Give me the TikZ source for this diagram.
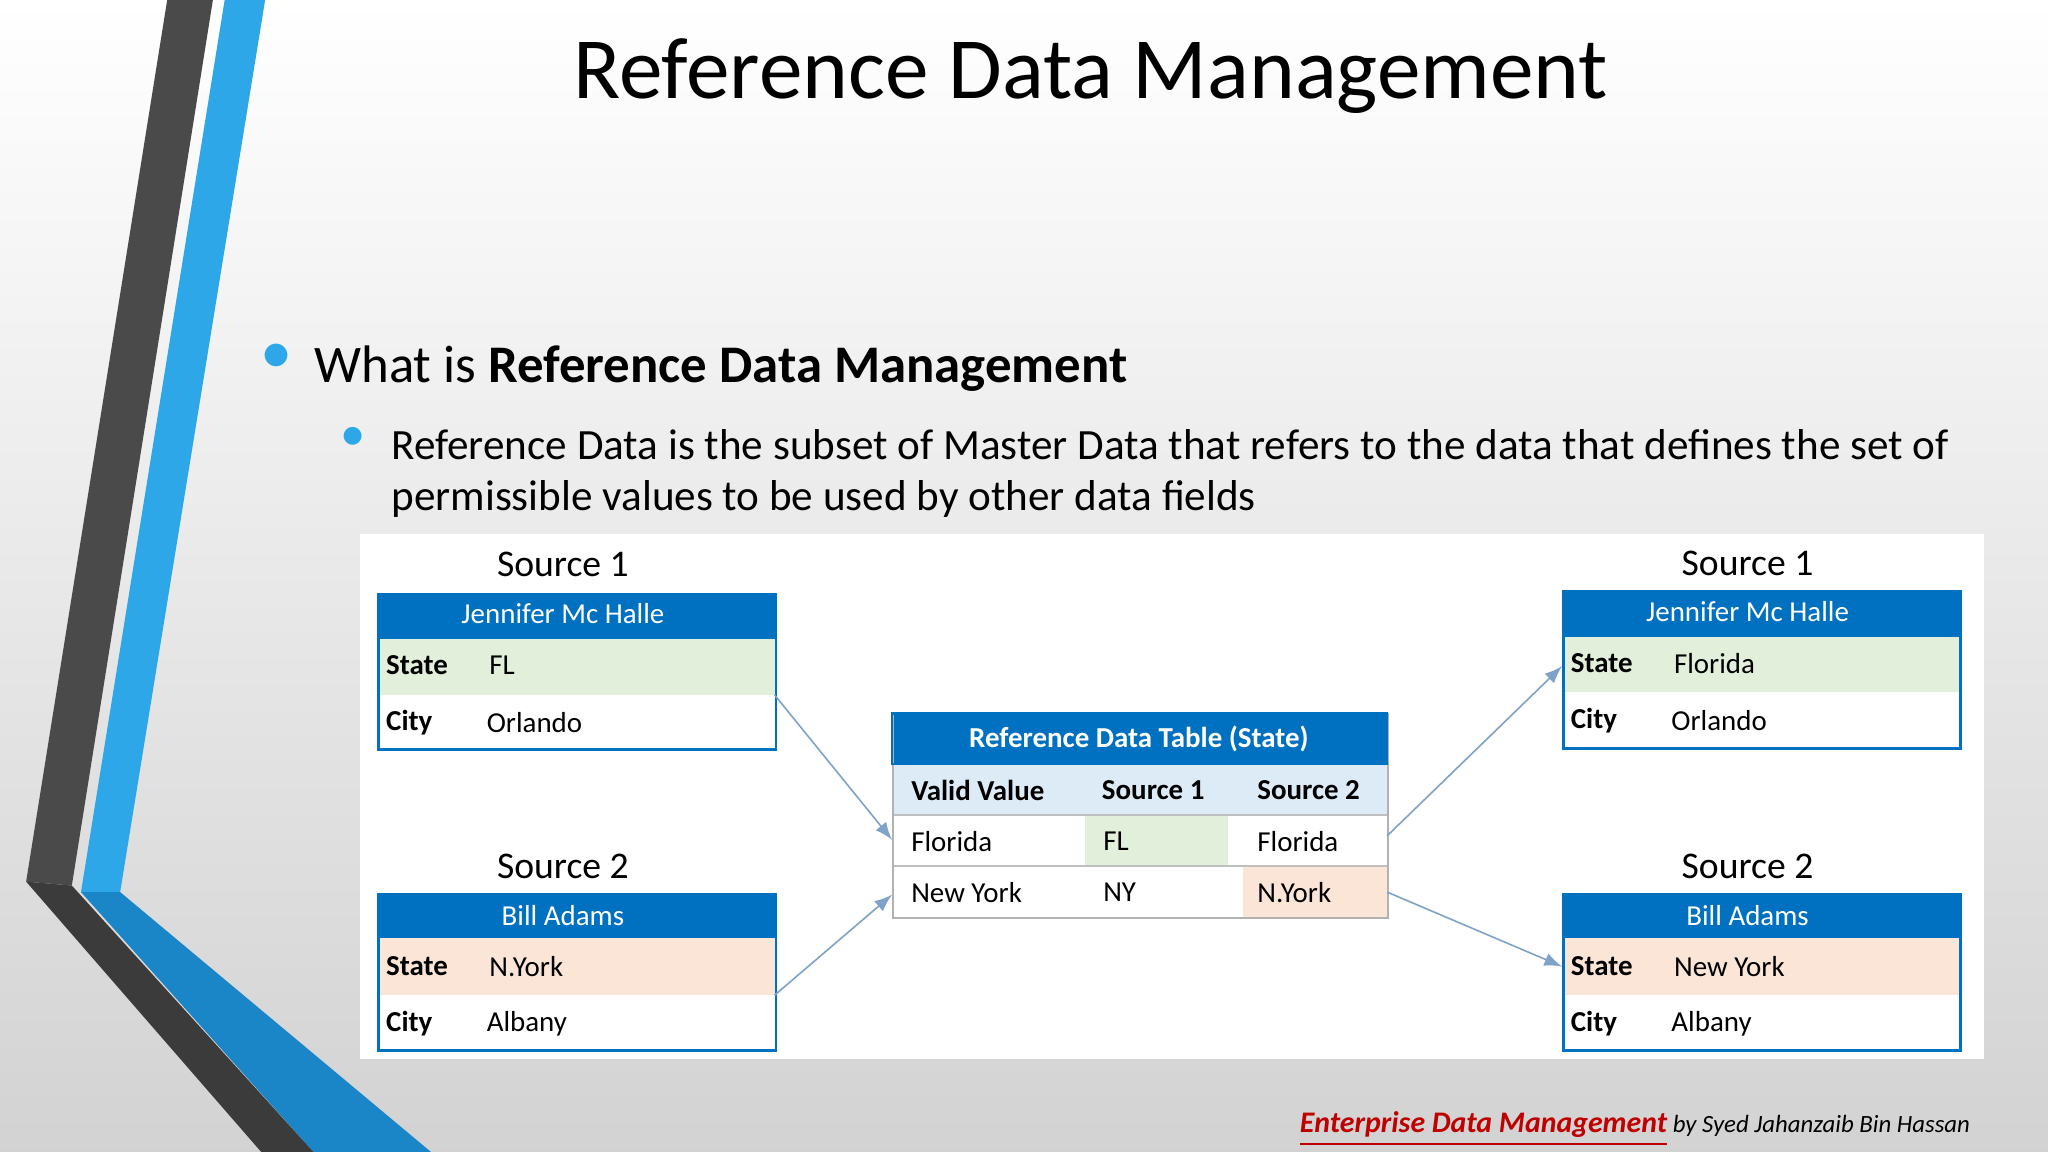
\documentclass[tikz,border=0pt]{standalone}
\usepackage{fontspec}
\setmainfont{Carlito}
\begin{document}
\begin{tikzpicture}[x=0.01cm,y=-0.01cm,
  cell/.style={inner sep=0pt,anchor=west,font=\fontsize{6.3}{7}\selectfont},
  bcell/.style={cell,font=\fontsize{6.3}{7}\selectfont\bfseries},
  htxt/.style={text=white,inner sep=0pt,font=\fontsize{6.3}{7}\selectfont},
  src/.style={inner sep=0pt,font=\fontsize{8.2}{9}\selectfont},
  arr/.style={draw=arrblue,line width=0.35pt,-latex},
  frame/.style={draw=hblue,line width=0.6pt,inner sep=0pt},
  body/.style={anchor=base west,inner sep=0pt,font=\fontsize{9.4}{11}\selectfont}]
\definecolor{hblue}{HTML}{0070C0}
\definecolor{lgreen}{HTML}{E2EFDA}
\definecolor{peach}{HTML}{FBE5D6}
\definecolor{lblue}{HTML}{DDEBF7}
\definecolor{arrblue}{HTML}{7FA3C8}
\definecolor{dgray}{HTML}{4A4A4A}
\definecolor{sblue}{HTML}{2EA7E8}
\definecolor{bblue}{HTML}{1A86C8}
\useasboundingbox (0,0) rectangle (1568,882);
\shade[top color=white,bottom color=gray!35] (0,0) rectangle (1568,882);
% decorative stripes
\fill[dgray] (128,0) -- (163,0) -- (55,678) -- (20,675) -- cycle;
\fill[sblue] (172,0) -- (203,0) -- (92,683) -- (62,683) -- cycle;
\fill[bblue] (62,683) -- (92,683) -- (330,882) -- (240,882) -- cycle;
\fill[dgray!80!black] (20,675) -- (55,678) -- (240,882) -- (200,882) -- cycle;
% title
\node[font=\fontsize{19}{22}\selectfont] (title) at (835,58) {Reference Data Management};
\node[text=sblue,font=\fontsize{14}{14}\selectfont] (b1) at (212,275) {•};
\node[anchor=base west,inner sep=0pt,font=\fontsize{11.5}{13}\selectfont] (t1) at (240,293) {What is \textbf{Reference Data Management}};
\node[text=sblue,font=\fontsize{11}{11}\selectfont] (b2) at (270,336) {•};
\node[body] (t2) at (299,352) {Reference Data is the subset of Master Data that refers to the data that defines the set of};
\node[body] (t3) at (299,391) {permissible values to be used by other data fields};
% panel
\fill[white] (276,409) rectangle (1519,811);
% left source 1
\node[src] (ls1) at (431,432) {Source 1};
\fill[hblue] (289,454) rectangle (593,489);
\fill[lgreen] (289,489) rectangle (593,532);
\node[frame,minimum width=304*0.01cm,minimum height=119*0.01cm,anchor=north west] (L1) at (289,454) {};
\node[htxt] at (431,470) {Jennifer Mc Halle};
\node[bcell] at (295,509) {State}; \node[cell] at (374,509) {FL};
\node[bcell] at (295,553) {City}; \node[cell] at (372,553) {Orlando};
% left source 2
\node[src] (ls2) at (431,663) {Source 2};
\fill[hblue] (289,684) rectangle (593,718);
\fill[peach] (289,718) rectangle (593,762);
\node[frame,minimum width=304*0.01cm,minimum height=119*0.01cm,anchor=north west] (L2) at (289,684) {};
\node[htxt] at (431,701) {Bill Adams};
\node[bcell] at (295,740) {State}; \node[cell] at (374,740) {N.York};
\node[bcell] at (295,784) {City}; \node[cell] at (372,784) {Albany};
% right source 1
\node[src] (rs1) at (1338,431) {Source 1};
\fill[hblue] (1196,452) rectangle (1500,488);
\fill[lgreen] (1196,488) rectangle (1500,530);
\node[frame,minimum width=304*0.01cm,minimum height=120*0.01cm,anchor=north west] (R1) at (1196,452) {};
\node[htxt] at (1338,468) {Jennifer Mc Halle};
\node[bcell] at (1202,508) {State}; \node[cell] at (1281,508) {Florida};
\node[bcell] at (1202,552) {City}; \node[cell] at (1279,552) {Orlando};
% right source 2
\node[src] (rs2) at (1338,663) {Source 2};
\fill[hblue] (1196,684) rectangle (1500,718);
\fill[peach] (1196,718) rectangle (1500,762);
\node[frame,minimum width=304*0.01cm,minimum height=119*0.01cm,anchor=north west] (R2) at (1196,684) {};
\node[htxt] at (1338,701) {Bill Adams};
\node[bcell] at (1202,740) {State}; \node[cell] at (1281,740) {New York};
\node[bcell] at (1202,784) {City}; \node[cell] at (1279,784) {Albany};
% center table
\fill[hblue] (683,546) rectangle (1062,585);
\fill[lblue] (683,585) rectangle (1062,624);
\fill[lgreen] (831,624) rectangle (940,663);
\fill[peach] (952,663) rectangle (1062,702);
\draw[gray!50] (683,624) -- (1062,624) (683,663) -- (1062,663);
\node[draw=gray!60,line width=0.5pt,inner sep=0pt,minimum width=379*0.01cm,minimum height=156*0.01cm,anchor=north west] (C) at (683,546) {};
\draw[hblue,line width=0.6pt] (683,546) rectangle (1062,585);
\node[htxt,font=\fontsize{6.3}{7}\selectfont\bfseries] at (872,566) {Reference Data Table (State)};
\node[bcell] at (697,605) {Valid Value}; \node[bcell] at (843,605) {Source 1}; \node[bcell] at (962,605) {Source 2};
\node[cell] at (697,644) {Florida}; \node[cell] at (844,644) {FL}; \node[cell] at (962,644) {Florida};
\node[cell] at (697,683) {New York}; \node[cell] at (844,683) {NY}; \node[cell] at (962,683) {N.York};
% arrows
\coordinate (a1) at (593,532); \coordinate (a2) at (683,643);
\coordinate (b1s) at (593,762); \coordinate (b2e) at (683,685);
\coordinate (c1) at (1062,640); \coordinate (c2) at (1196,510);
\coordinate (d1) at (1062,683); \coordinate (d2) at (1196,740);
\draw[arr] (a1) -- (a2);
\draw[arr] (b1s) -- (b2e);
\draw[arr] (c1) -- (c2);
\draw[arr] (d1) -- (d2);
% footer
\node[anchor=base east,inner sep=0pt,font=\fontsize{5.4}{6}\selectfont\itshape] (ft) at (1509,867)
 {\textcolor{red!75!black}{\fontsize{6.5}{7}\selectfont\bfseries\underline{Enterprise Data Management}} by Syed Jahanzaib Bin Hassan};
\end{tikzpicture}
\end{document}
